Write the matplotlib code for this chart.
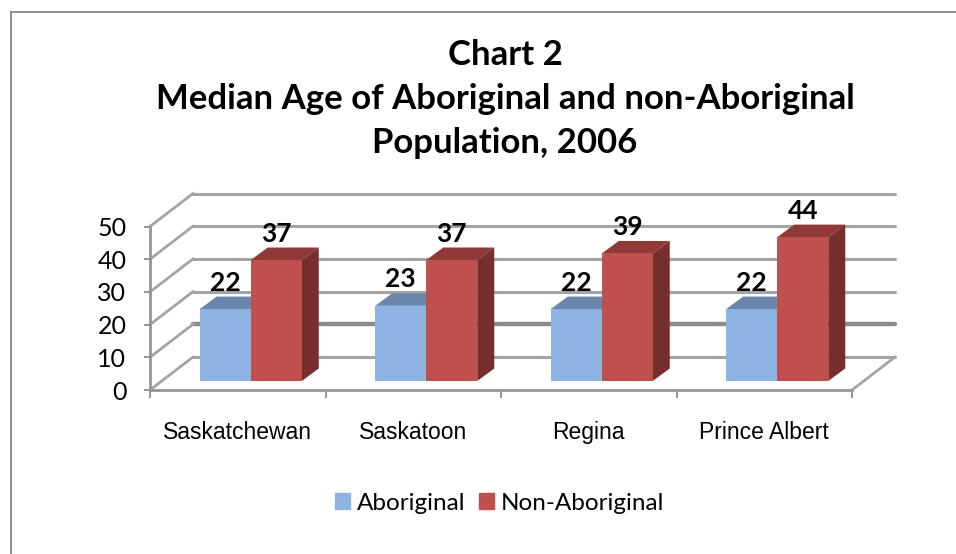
import matplotlib
matplotlib.use('Agg')
import matplotlib.pyplot as plt
from matplotlib.lines import Line2D
from matplotlib.patches import Patch, Polygon

categories = ['Saskatchewan', 'Saskatoon', 'Regina', 'Prince Albert']
aboriginal = [22, 23, 22, 22]
non_aboriginal = [37, 37, 39, 44]
y_ticks = [0, 10, 20, 30, 40, 50]
title = 'Chart 2\nMedian Age of Aboriginal and non-Aboriginal\nPopulation, 2006'

W, H = 956, 554
GRID = '#a4a4a4'
BLUE, BLUE_TOP, BLUE_SIDE = '#8db3e2', '#6a86ab', '#5f7da3'
RED, RED_TOP, RED_SIDE = '#c0504d', '#8f3a38', '#772f2d'

plt.rcParams['font.family'] = ['Lato', 'DejaVu Sans']

fig = plt.figure(figsize=(W / 100, H / 100), dpi=100)
ax = fig.add_axes([150 / W, 1 - 390 / H, 702 / W, 163.5 / H])
ax.set_xlim(-0.5, 3.5)
ax.set_ylim(0, 50)

# px to data units
ux = 4 / 702
uy = 50 / 163.5

# back wall / side wall / floor
wall_dx, wall_dy = 43 * ux, 33 * uy
left, right = -0.5, 3.5
for t in y_ticks:
    lw = 3.2 if t == 10 else 2.2
    col = '#8c8c8c' if t == 10 else GRID
    ax.plot([left + wall_dx, right + wall_dx], [t + wall_dy] * 2, color=col, lw=lw,
            clip_on=False, zorder=1, solid_capstyle='round')
    ax.plot([left, left + wall_dx], [t, t + wall_dy], color=GRID, lw=2, clip_on=False, zorder=1)
ax.plot([right, right + wall_dx], [0, wall_dy], color=GRID, lw=2, clip_on=False, zorder=1)

# bars with fake depth
base = 9 * uy
shift = 13 * ux
bw = 51 * ux
dep_x, dep_y = 17 * ux, 12.5 * uy


def bar3d(x0, val, front, top, side, z):
    ax.bar(x0, val, bw, bottom=base, align='edge', color=front, zorder=z + 0.2, clip_on=False)
    y1 = base + val
    ax.add_patch(Polygon([(x0, y1), (x0 + bw, y1), (x0 + bw + dep_x, y1 + dep_y), (x0 + dep_x, y1 + dep_y)],
                         closed=True, fc=top, ec='none', zorder=z, clip_on=False))
    ax.add_patch(Polygon([(x0 + bw, base), (x0 + bw + dep_x, base + dep_y), (x0 + bw + dep_x, y1 + dep_y), (x0 + bw, y1)],
                         closed=True, fc=side, ec='none', zorder=z, clip_on=False))


for i in range(len(categories)):
    xb = i + shift - bw
    xr = i + shift
    bar3d(xb, aboriginal[i], BLUE, BLUE_TOP, BLUE_SIDE, 3)
    bar3d(xr, non_aboriginal[i], RED, RED_TOP, RED_SIDE, 4)
    ax.annotate(str(aboriginal[i]), (xb + bw / 2, base + aboriginal[i]), xytext=(0, 19), textcoords='offset points',
                ha='center', va='center', fontsize=19, fontweight='bold', zorder=6)
    ax.annotate(str(non_aboriginal[i]), (xr + bw / 2, base + non_aboriginal[i]), xytext=(0, 19), textcoords='offset points',
                ha='center', va='center', fontsize=19, fontweight='bold', zorder=6)

# axes
for s in ['top', 'right']:
    ax.spines[s].set_visible(False)
for s in ['left', 'bottom']:
    ax.spines[s].set_color('#969696')
    ax.spines[s].set_linewidth(2)
    ax.spines[s].set_zorder(2)
ax.patch.set_alpha(0)
ax.set_yticks(y_ticks)
ax.tick_params(axis='y', length=4, width=1.4, color='#969696', labelsize=18, pad=13)
ax.set_xticks(range(len(categories)))
ax.set_xticklabels(categories, family=['Liberation Sans', 'DejaVu Sans'], fontsize=16.5)
ax.set_xticks([-0.5, 0.5, 1.5, 2.5, 3.5], minor=True)
ax.tick_params(axis='x', which='major', length=0, pad=22)
ax.tick_params(axis='x', which='minor', length=6, width=1.4, color='#969696')

fig.text(505 / W, 1 - 99 / H, title, ha='center', va='center', fontsize=25, fontweight='bold', linespacing=1.47)

handles = [Patch(color=BLUE, label='Aboriginal'), Patch(color=RED, label='Non-Aboriginal')]
fig.legend(handles=handles, loc='center', bbox_to_anchor=(499.5 / W, 1 - 503 / H), ncol=2, frameon=False,
           fontsize=17.5, handlelength=0.62, handleheight=0.62, handletextpad=0.3, columnspacing=0.55)

# chart border, top and left only
fig.add_artist(Line2D([11 / W, 11 / W], [0, 1 - 12 / H], color='#8c8c8c', lw=1.4))
fig.add_artist(Line2D([11 / W, 1], [1 - 12 / H, 1 - 12 / H], color='#8c8c8c', lw=1.4))

fig.savefig('out.png', dpi=100)
